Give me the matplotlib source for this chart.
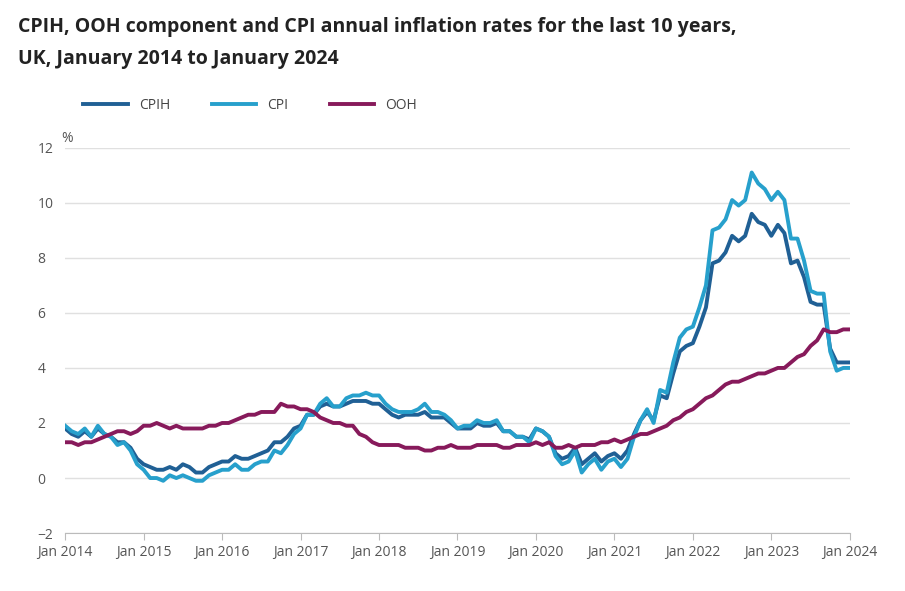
import matplotlib
matplotlib.use("Agg")
import matplotlib.pyplot as plt
import numpy as np

plt.rcParams['font.family'] = ['Open Sans', 'DejaVu Sans']

cpih = [1.8,1.6,1.5,1.7,1.5,1.8,1.6,1.5,1.3,1.3,1.1,0.7,
        0.5,0.4,0.3,0.3,0.4,0.3,0.5,0.4,0.2,0.2,0.4,0.5,
        0.6,0.6,0.8,0.7,0.7,0.8,0.9,1.0,1.3,1.3,1.5,1.8,
        1.9,2.3,2.3,2.6,2.7,2.6,2.6,2.7,2.8,2.8,2.8,2.7,
        2.7,2.5,2.3,2.2,2.3,2.3,2.3,2.4,2.2,2.2,2.2,2.0,
        1.8,1.8,1.8,2.0,1.9,1.9,2.0,1.7,1.7,1.5,1.5,1.4,
        1.8,1.7,1.5,0.9,0.7,0.8,1.1,0.5,0.7,0.9,0.6,0.8,
        0.9,0.7,1.0,1.6,2.1,2.4,2.1,3.0,2.9,3.8,4.6,4.8,
        4.9,5.5,6.2,7.8,7.9,8.2,8.8,8.6,8.8,9.6,9.3,9.2,
        8.8,9.2,8.9,7.8,7.9,7.3,6.4,6.3,6.3,4.7,4.2,4.2,
        4.2]
cpi = [1.9,1.7,1.6,1.8,1.5,1.9,1.6,1.5,1.2,1.3,1.0,0.5,
       0.3,0.0,0.0,-0.1,0.1,0.0,0.1,0.0,-0.1,-0.1,0.1,0.2,
       0.3,0.3,0.5,0.3,0.3,0.5,0.6,0.6,1.0,0.9,1.2,1.6,
       1.8,2.3,2.3,2.7,2.9,2.6,2.6,2.9,3.0,3.0,3.1,3.0,
       3.0,2.7,2.5,2.4,2.4,2.4,2.5,2.7,2.4,2.4,2.3,2.1,
       1.8,1.9,1.9,2.1,2.0,2.0,2.1,1.7,1.7,1.5,1.5,1.3,
       1.8,1.7,1.5,0.8,0.5,0.6,1.0,0.2,0.5,0.7,0.3,0.6,
       0.7,0.4,0.7,1.5,2.1,2.5,2.0,3.2,3.1,4.2,5.1,5.4,
       5.5,6.2,7.0,9.0,9.1,9.4,10.1,9.9,10.1,11.1,10.7,10.5,
       10.1,10.4,10.1,8.7,8.7,7.9,6.8,6.7,6.7,4.6,3.9,4.0,
       4.0]
ooh = [1.3,1.3,1.2,1.3,1.3,1.4,1.5,1.6,1.7,1.7,1.6,1.7,
       1.9,1.9,2.0,1.9,1.8,1.9,1.8,1.8,1.8,1.8,1.9,1.9,
       2.0,2.0,2.1,2.2,2.3,2.3,2.4,2.4,2.4,2.7,2.6,2.6,
       2.5,2.5,2.4,2.2,2.1,2.0,2.0,1.9,1.9,1.6,1.5,1.3,
       1.2,1.2,1.2,1.2,1.1,1.1,1.1,1.0,1.0,1.1,1.1,1.2,
       1.1,1.1,1.1,1.2,1.2,1.2,1.2,1.1,1.1,1.2,1.2,1.2,
       1.3,1.2,1.3,1.1,1.1,1.2,1.1,1.2,1.2,1.2,1.3,1.3,
       1.4,1.3,1.4,1.5,1.6,1.6,1.7,1.8,1.9,2.1,2.2,2.4,
       2.5,2.7,2.9,3.0,3.2,3.4,3.5,3.5,3.6,3.7,3.8,3.8,
       3.9,4.0,4.0,4.2,4.4,4.5,4.8,5.0,5.4,5.3,5.3,5.4,
       5.4]
tick_labels = ["Jan %d" % y for y in range(2014, 2025)]

x = np.arange(len(cpih))
fig = plt.figure(figsize=(9.05, 5.91), dpi=100)
ax = fig.add_axes([0.072, 0.098, 0.867, 0.652])
ax.plot(x, cpih, color='#206095', lw=2.8, label='CPIH')
ax.plot(x, cpi, color='#27a0cc', lw=2.8, label='CPI')
ax.plot(x, ooh, color='#871a5b', lw=2.8, label='OOH')
ax.set_ylim(-2, 12)
ax.set_yticks(range(-2, 13, 2))
ax.set_xlim(0, 120)
ax.set_xticks(range(0, 121, 12))
ax.set_xticklabels(tick_labels)
ax.grid(axis='y', color='#e0e0e0', lw=1)
ax.set_axisbelow(True)
for s in ['top', 'right', 'left']:
    ax.spines[s].set_visible(False)
ax.spines['bottom'].set_color('#bbbbbb')
ax.tick_params(axis='y', length=0, labelsize=10, colors='#555555', pad=20)
ax.tick_params(axis='x', length=5, color='#bbbbbb', labelsize=10, colors='#555555')
for t in ax.get_yticklabels():
    t.set_horizontalalignment('left')
ax.text(-0.005, 1.005, '%', transform=ax.transAxes, fontsize=10, color='#555555', va='bottom', ha='left')
fig.text(0.02, 0.955, 'CPIH, OOH component and CPI annual inflation rates for the last 10 years,',
         fontsize=14, fontweight='bold', color='#222222', va='center')
fig.text(0.02, 0.9, 'UK, January 2014 to January 2024',
         fontsize=14, fontweight='bold', color='#222222', va='center')
fig.legend(loc='center left', bbox_to_anchor=(0.078, 0.822), ncol=3, frameon=False,
           fontsize=10, handlelength=3.2, columnspacing=3, labelcolor='#444444')
fig.savefig('out.png', dpi=100)
